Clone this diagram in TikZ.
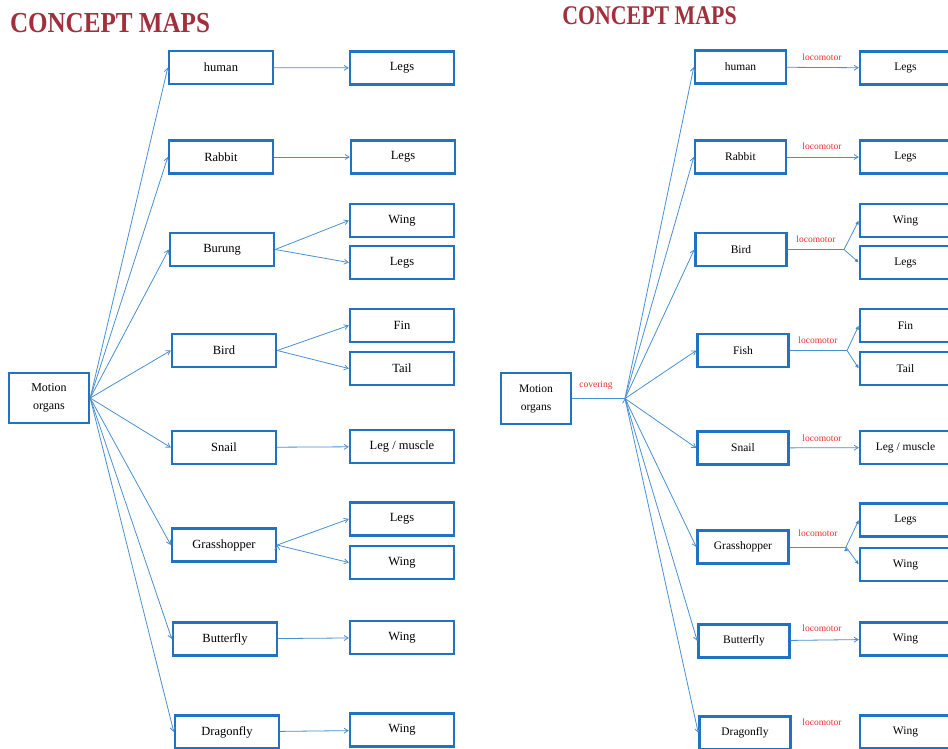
\documentclass[tikz,border=0pt]{standalone}
\usepackage{fontspec}
\setmainfont{Liberation Serif}
\usetikzlibrary{arrows.meta}
\definecolor{boxblue}{HTML}{2272C3}
\definecolor{linkblue}{HTML}{4A8FD0}
\definecolor{titlered}{HTML}{A0303C}
\definecolor{labelred}{HTML}{F02C2C}
\begin{document}
\begin{tikzpicture}[x=1pt,y=-1pt,>={Straight Barb[length=4pt,width=5pt]}]
	\useasboundingbox (0,0) rectangle (948,748);
	\def \moleft{49}
	\def \organleft{402}
	\def \moright{536}
	\def \organright{905.5}
	\def \labright{822}
	\tikzstyle{t-node}=[text=titlered,inner sep=0pt]
	\tikzstyle{m-node}=[draw=boxblue,line width=2.4pt,align=center,inner sep=0pt,font=\fontsize{12}{18}\selectfont]
	\tikzstyle{a-node}=[draw=boxblue,line width=2.4pt,minimum width=104pt,minimum height=33pt,inner sep=0pt,font=\fontsize{12.5}{14}\selectfont]
	\tikzstyle{b-node}=[a-node,minimum width=91pt,font=\fontsize{11.5}{14}\selectfont]
	\tikzstyle{annot}=[text=labelred,inner sep=0pt,font=\fontsize{9.5}{10}\selectfont]
	\tikzstyle{link}=[draw=linkblue,line width=0.8pt,->]
	\tikzstyle{fork}=[draw=linkblue,line width=0.8pt,-{Latex[length=4pt,width=4pt]}]
	% titles
	\node[t-node] (titleL) at (110,23) {\scalebox{0.865}[1]{\fontsize{29}{29}\selectfont\bfseries CONCEPT MAPS}};
	\node[t-node] (titleR) at (649.5,16) {\scalebox{0.81}[1]{\fontsize{27}{27}\selectfont\bfseries CONCEPT MAPS}};

	% left map
	\node[m-node,minimum width=80pt,minimum height=50pt] (moL) at (\moleft,398) {Motion\\organs};
	\node[a-node] (humanL)	at (221,67.5)	{human};
	\node[a-node] (rabbitL)	at (221,157)	{Rabbit};
	\node[a-node] (burungL)	at (222,249.5)	{Burung};
	\node[a-node] (birdL)	at (224,350.5)	{Bird};
	\node[a-node] (snailL)	at (224,447.5)	{Snail};
	\node[a-node] (grassL)	at (224,545)	{Grasshopper};
	\node[a-node] (butterL)	at (225,639)	{Butterfly};
	\node[a-node] (dragonL)	at (227,732)	{Dragonfly};
	%
	\node[a-node] (legsL1)	at (\organleft,68)	{Legs};
	\node[a-node] (legsL2)	at (403,157)	{Legs};
	\node[a-node] (wingL3)	at (\organleft,220.5)	{Wing};
	\node[a-node] (legsL3)	at (\organleft,262.5)	{Legs};
	\node[a-node] (finL4)	at (\organleft,325.5)	{Fin};
	\node[a-node] (tailL4)	at (\organleft,368.5)	{Tail};
	\node[a-node] (muscleL5) at (\organleft,446.5)	{Leg / muscle};
	\node[a-node] (legsL6)	at (\organleft,519)	{Legs};
	\node[a-node] (wingL6)	at (\organleft,562.5)	{Wing};
	\node[a-node] (wingL7)	at (\organleft,637.5)	{Wing};
	\node[a-node] (wingL8)	at (\organleft,730)	{Wing};

	\path[link]
		(moL.east)	edge	(humanL.west)
		(moL.east)	edge	(rabbitL.west)
		(moL.east)	edge	(burungL.west)
		(moL.east)	edge	(birdL.west)
		(moL.east)	edge	(snailL.west)
		(moL.east)	edge	(grassL.west)
		(moL.east)	edge	(butterL.west)
		(moL.east)	edge	(dragonL.west)
		%
		(humanL)	edge	(legsL1)
		(rabbitL)	edge	(legsL2)
		(burungL.east)	edge	(wingL3.west)
		(burungL.east)	edge	(legsL3.west)
		(birdL.east)	edge	(finL4.west)
		(birdL.east)	edge	(tailL4.west)
		(snailL)	edge	(muscleL5)
		(grassL.east)	edge	(legsL6.west)
		(grassL.east)	edge	(wingL6.west)
		(butterL)	edge	(wingL7)
		(dragonL)	edge	(wingL8);

	% right map
	\node[m-node,minimum width=70pt,minimum height=51pt,font=\fontsize{11.5}{18}\selectfont] (moR) at (\moright,398.5) {Motion\\organs};
	\coordinate (hubR) at (625,398.5);
	\node[annot] (coverR) at (596,385) {covering};
	\node[b-node] (humanR)	at (740.5,67)	{human};
	\node[b-node] (rabbitR)	at (740.5,157)	{Rabbit};
	\node[b-node] (birdR)	at (741,249.5)	{Bird};
	\node[b-node] (fishR)	at (743,350.5)	{Fish};
	\node[b-node] (snailR)	at (743,448)	{Snail};
	\node[b-node] (grassR)	at (743,547)	{Grasshopper};
	\node[b-node] (butterR)	at (744,641)	{Butterfly};
	\node[b-node] (dragonR)	at (745,733)	{Dragonfly};
	%
	\node[b-node] (legsR1)	at (\organright,68)	{Legs};
	\node[b-node] (legsR2)	at (\organright,157)	{Legs};
	\node[b-node] (wingR3)	at (\organright,220.5)	{Wing};
	\node[b-node] (legsR3)	at (\organright,262.5)	{Legs};
	\node[b-node] (finR4)	at (\organright,325.5)	{Fin};
	\node[b-node] (tailR4)	at (\organright,368.5)	{Tail};
	\node[b-node] (muscleR5) at (\organright,447.5)	{Leg / muscle};
	\node[b-node] (legsR6)	at (\organright,520)	{Legs};
	\node[b-node] (wingR6)	at (\organright,564.5)	{Wing};
	\node[b-node] (wingR7)	at (\organright,639)	{Wing};
	\node[b-node] (wingR8)	at (\organright,732)	{Wing};
	% relation labels
	\node[annot] (locR1) at (\labright,57)	{locomotor};
	\node[annot] (locR2) at (\labright,146)	{locomotor};
	\node[annot] (locR3) at (816,239)	{locomotor};
	\node[annot] (locR4) at (818,340)	{locomotor};
	\node[annot] (locR5) at (\labright,438)	{locomotor};
	\node[annot] (locR6) at (818,533)	{locomotor};
	\node[annot] (locR7) at (\labright,628)	{locomotor};
	\node[annot] (locR8) at (\labright,722)	{locomotor};
	% fork points
	\coordinate (forkR3) at (844,249.5);
	\coordinate (forkR4) at (847,350.5);
	\coordinate (forkR6) at (846,547);

	\draw[draw=linkblue,line width=0.8pt] (moR.east) -- (hubR);
	\path[link]
		(hubR)	edge	(humanR.west)
		(hubR)	edge	(rabbitR.west)
		(hubR)	edge	(birdR.west)
		(hubR)	edge	(fishR.west)
		(hubR)	edge	(snailR.west)
		(hubR)	edge	(grassR.west)
		(hubR)	edge	(butterR.west)
		(hubR)	edge	(dragonR.west)
		%
		(humanR)	edge	(legsR1)
		(rabbitR)	edge	(legsR2)
		(snailR)	edge	(muscleR5)
		(butterR)	edge	(wingR7);
	\draw[draw=linkblue,line width=0.8pt] (birdR.east) -- (forkR3);
	\draw[draw=linkblue,line width=0.8pt] (fishR.east) -- (forkR4);
	\draw[draw=linkblue,line width=0.8pt] (grassR.east) -- (forkR6);
	\path[fork]
		(forkR3)	edge	(wingR3.west)
		(forkR3)	edge	(legsR3.west)
		(forkR4)	edge	(finR4.west)
		(forkR4)	edge	(tailR4.west)
		(forkR6)	edge	(legsR6.west)
		(forkR6)	edge	(wingR6.west);
\end{tikzpicture}
\end{document}
